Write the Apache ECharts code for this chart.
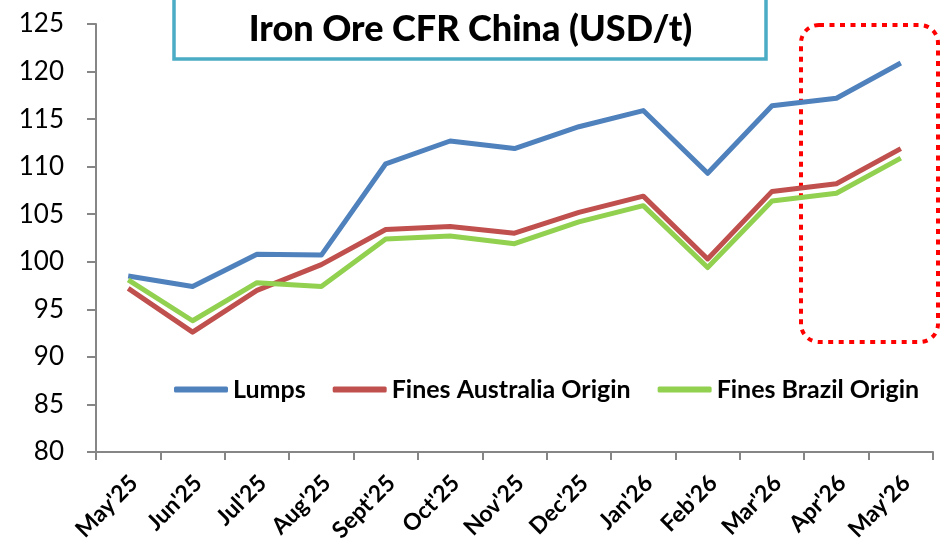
<!DOCTYPE html>
<html>
<head>
<meta charset="utf-8">
<script src="https://cdn.jsdelivr.net/npm/echarts@6/dist/echarts.min.js"></script>
<style>
  html, body { margin: 0; padding: 0; background: #fff; }
  #main { width: 941px; height: 547px; }
</style>
</head>
<body>
<div id="main"></div>
<script>
// 数据
const months = ["May'25", "Jun'25", "Jul'25", "Aug'25", "Sept'25", "Oct'25", "Nov'25",
    "Dec'25", "Jan'26", "Feb'26", "Mar'26", "Apr'26", "May'26"]
const lumps = [98.5, 97.4, 100.8, 100.7, 110.3, 112.7, 111.9, 114.2, 115.9, 109.3, 116.4, 117.2, 120.9]
const finesAus = [97.2, 92.6, 97.0, 99.7, 103.4, 103.7, 103.0, 105.2, 106.9, 100.3, 107.4, 108.2, 111.9]
const finesBra = [98.1, 93.8, 97.8, 97.4, 102.4, 102.7, 101.9, 104.2, 105.9, 99.4, 106.4, 107.2, 110.9]

const chart = echarts.init(document.getElementById('main'))

function lineSeries(name, data, color) {
    return {
        name: name,
        type: 'line',
        data: data,
        symbol: 'none',
        lineStyle: { width: 5, color: color, join: 'round' },
        itemStyle: { color: color }
    }
}

const option = {
    animation: false,
    backgroundColor: '#fff',
    title: {
        text: 'Iron Ore CFR China (USD/t)',
        left: 'center',
        top: 6,
        textStyle: { fontFamily: 'Lato', fontWeight: 900, fontSize: 36, color: '#000' }
    },
    legend: {
        top: 372,
        left: 169,
        icon: 'roundRect',
        itemWidth: 54,
        itemHeight: 6,
        itemGap: 27,
        textStyle: { fontFamily: 'Lato', fontWeight: 'bold', fontSize: 25, color: '#000' }
    },
    grid: { left: 96, right: 8, top: 24, bottom: 95, outerBoundsMode: 'none', containLabel: false },
    xAxis: {
        type: 'category',
        data: months,
        boundaryGap: true,
        axisLine: { lineStyle: { color: '#868686', width: 2 } },
        axisTick: { show: true, length: 8, interval: 0, lineStyle: { color: '#868686', width: 2 } },
        axisLabel: {
            interval: 0,
            rotate: 45,
            margin: 33,
            padding: [0, -8, 0, 0],
            fontFamily: 'Lato',
            fontWeight: 'bold',
            fontSize: 23,
            color: '#000'
        }
    },
    yAxis: {
        type: 'value',
        min: 80,
        max: 125,
        interval: 5,
        splitLine: { show: false },
        axisLine: { show: true, lineStyle: { color: '#868686', width: 2 } },
        axisTick: { show: true, length: 9, lineStyle: { color: '#868686', width: 2 } },
        axisLabel: { margin: 32, fontFamily: 'Lato', fontSize: 26, color: '#000' }
    },
    graphic: [
        // 标题框
        {
            type: 'rect',
            z: -1,
            shape: { x: 174, y: -10, width: 592, height: 69 },
            style: { fill: '#fff', stroke: '#4BACC6', lineWidth: 3.5 }
        },
        // 红色虚线框
        {
            type: 'rect',
            shape: { x: 801, y: 25, width: 137, height: 317, r: 18 },
            style: { fill: 'none', stroke: '#FF0000', lineWidth: 4, lineDash: [5, 5.5] }
        }
    ],
    series: [
        lineSeries('Lumps', lumps, '#4F81BD'),
        lineSeries('Fines Australia Origin', finesAus, '#C0504D'),
        lineSeries('Fines Brazil Origin', finesBra, '#92D050')
    ]
}

chart.setOption(option)
</script>
</body>
</html>
